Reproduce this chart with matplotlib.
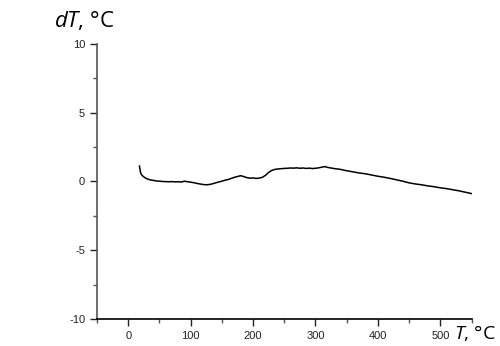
import matplotlib
matplotlib.use("Agg")
import matplotlib.pyplot as plt
from matplotlib.ticker import MultipleLocator

plt.rcParams["axes.unicode_minus"] = False
plt.rcParams["mathtext.fontset"] = "custom"
plt.rcParams["mathtext.rm"] = "Open Sans"
plt.rcParams["mathtext.it"] = "Open Sans:italic"

# Température (°C) et différence de température dT (°C)
temp = [18, 19, 20, 22, 25, 28, 32, 36, 40, 45, 50, 55, 60, 65, 70, 75, 80, 85,
        90, 95, 100, 105, 110, 115, 120, 125, 130, 135, 140, 145, 150, 155, 160,
        165, 170, 175, 180, 185, 190, 195, 200, 205, 210, 215, 220, 225, 230,
        235, 240, 245, 250, 255, 260, 265, 270, 275, 280, 285, 290, 295, 300,
        305, 310, 315, 320, 325, 330, 340, 350, 360, 370, 380, 390, 400, 410,
        420, 430, 440, 450, 460, 470, 480, 490, 500, 510, 520, 530, 540, 550]
dT = [1.12, 0.85, 0.62, 0.45, 0.33, 0.24, 0.16, 0.11, 0.08, 0.04, 0.02, 0.0,
      -0.01, -0.02, -0.01, -0.03, -0.02, -0.04, 0.02, -0.02, -0.05, -0.09,
      -0.14, -0.18, -0.22, -0.24, -0.22, -0.17, -0.10, -0.04, 0.02, 0.09, 0.14,
      0.22, 0.30, 0.36, 0.42, 0.36, 0.28, 0.24, 0.26, 0.22, 0.25, 0.30, 0.45,
      0.66, 0.80, 0.88, 0.91, 0.93, 0.95, 0.96, 0.98, 0.97, 0.99, 0.96, 0.98,
      0.95, 0.97, 0.94, 0.96, 0.99, 1.04, 1.08, 1.02, 0.98, 0.94, 0.88, 0.78,
      0.70, 0.62, 0.56, 0.47, 0.38, 0.31, 0.22, 0.12, 0.02, -0.10, -0.18,
      -0.24, -0.32, -0.38, -0.46, -0.52, -0.60, -0.68, -0.78, -0.88]

x_ticks = [0, 100, 200, 300, 400, 500]
y_ticks = [-10, -5, 0, 5, 10]

fig = plt.figure(figsize=(5, 3.46), dpi=100)
ax = fig.add_axes([0.194, 0.078, 0.749, 0.795])

ax.plot(temp, dT, color="black", linewidth=1.1)

ax.set_xlim(-50, 550)
ax.set_ylim(-10, 10)
ax.set_xticks(x_ticks)
ax.set_yticks(y_ticks)
ax.xaxis.set_minor_locator(MultipleLocator(50))
ax.yaxis.set_minor_locator(MultipleLocator(2.5))

for s in ["top", "right"]:
    ax.spines[s].set_visible(False)
ax.spines["left"].set_color("#555555")
ax.spines["left"].set_linewidth(1.2)
ax.spines["bottom"].set_color("black")
ax.spines["bottom"].set_linewidth(1.2)

ax.tick_params(axis="both", which="major", direction="out", length=5, width=1,
               labelsize=8, colors="#222222")
ax.tick_params(axis="both", which="minor", direction="out", length=3, width=1,
               colors="#555555")
for lbl in ax.get_xticklabels() + ax.get_yticklabels():
    lbl.set_fontfamily("Liberation Sans")

fig.text(0.108, 0.94, "$\\it{dT}$, °C", fontsize=16, family="Open Sans",
         ha="left", va="center")
fig.text(0.992, 0.01, "$\\it{T}$, °C", fontsize=14, family="Open Sans",
         ha="right", va="bottom")

fig.savefig("out.png", dpi=100)
